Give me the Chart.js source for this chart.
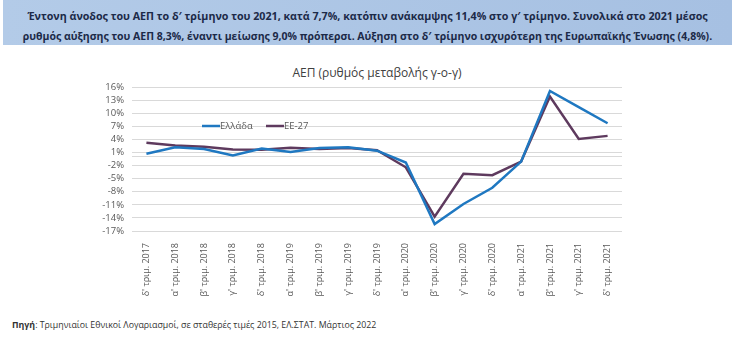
<!DOCTYPE html>
<html lang="el">
<head>
    <meta charset="UTF-8">
    <title>ΑΕΠ (ρυθμός μεταβολής γ-ο-γ)</title>
    <script src="https://cdn.jsdelivr.net/npm/chart.js"></script>
    <style>
        body { margin: 0; width: 732px; height: 343px; background: #fff; font-family: "Open Sans", sans-serif; position: relative; overflow: hidden; }
        .header { position: absolute; left: 3px; top: 0; width: 729px; height: 45px; background: linear-gradient(to right, #b3cbe8, #a6c0e2); color: #1c2a48; font-weight: bold; line-height: 18px; text-align: center; padding-top: 5px; box-sizing: border-box; white-space: nowrap; }
        .header .l1 { font-size: 10.7px; }
        .header .l2 { font-size: 10.5px; }
        .title { position: absolute; left: 0; width: 754px; top: 64px; text-align: center; font-size: 12px; color: #404040; }
        .chart-box { position: absolute; left: 0; top: 48px; width: 732px; height: 262px; }
        .source { position: absolute; left: 12px; top: 319px; font-size: 8.8px; color: #333; }
    </style>
</head>
<body>
    <div class="header">
        <span class="l1">Έντονη άνοδος του ΑΕΠ το δ′ τρίμηνο του 2021, κατά 7,7%, κατόπιν ανάκαμψης 11,4% στο γ′ τρίμηνο. Συνολικά στο 2021 μέσος</span><br>
        <span class="l2">ρυθμός αύξησης του ΑΕΠ 8,3%, έναντι μείωσης 9,0% πρόπερσι. Αύξηση στο δ′ τρίμηνο ισχυρότερη της Ευρωπαϊκής Ένωσης (4,8%).</span>
    </div>
    <div class="title">ΑΕΠ (ρυθμός μεταβολής γ-ο-γ)</div>
    <div class="chart-box"><canvas id="gdpChart"></canvas></div>
    <div class="source"><b>Πηγή</b>: Τριμηνιαίοι Εθνικοί Λογαριασμοί, σε σταθερές τιμές 2015, ΕΛ.ΣΤΑΤ. Μάρτιος 2022</div>

    <script>
        // quarters (x axis)
        const quarters = [
            "δ' τριμ. 2017", "α' τριμ. 2018", "β' τριμ. 2018", "γ' τριμ. 2018", "δ' τριμ. 2018",
            "α' τριμ. 2019", "β' τριμ. 2019", "γ' τριμ. 2019", "δ' τριμ. 2019",
            "α' τριμ. 2020", "β' τριμ. 2020", "γ' τριμ. 2020", "δ' τριμ. 2020",
            "α' τριμ. 2021", "β' τριμ. 2021", "γ' τριμ. 2021", "δ' τριμ. 2021"
        ];

        // y-o-y change, %
        const greece = [0.7, 2.2, 1.8, 0.3, 1.9, 1.1, 2.0, 2.2, 1.4, -1.3, -15.4, -10.8, -7.1, -1.1, 15.1, 11.4, 7.7];
        const eu27   = [3.2, 2.6, 2.3, 1.7, 1.6, 2.1, 1.8, 2.0, 1.5, -2.4, -13.7, -3.9, -4.2, -1.1, 13.8, 4.1, 4.8];

        // y axis ticks
        const yTicks = [-17, -14, -11, -8, -5, -2, 1, 4, 7, 10, 13, 16];

        // legend drawn inside the plot, left of centre
        const innerLegend = {
            id: 'innerLegend',
            afterDraw(chart) {
                const ctx = chart.ctx;
                let x = chart.chartArea.left + 70;
                const y = chart.chartArea.top + 39;
                ctx.save();
                ctx.font = '9.5px "Open Sans", sans-serif';
                ctx.textBaseline = 'middle';
                chart.data.datasets.forEach(ds => {
                    ctx.strokeStyle = ds.borderColor;
                    ctx.lineWidth = 2.5;
                    ctx.beginPath();
                    ctx.moveTo(x, y);
                    ctx.lineTo(x + 18, y);
                    ctx.stroke();
                    ctx.fillStyle = '#595959';
                    ctx.fillText(ds.label, x + 18, y);
                    x += 64;
                });
                ctx.restore();
            }
        };

        new Chart(document.getElementById('gdpChart'), {
            type: 'line',
            data: {
                labels: quarters,
                datasets: [
                    { label: 'Ελλάδα', data: greece, borderColor: '#1f78c1', borderWidth: 2.5, pointRadius: 0, tension: 0 },
                    { label: 'ΕΕ-27', data: eu27, borderColor: '#5e3a5e', borderWidth: 2.5, pointRadius: 0, tension: 0 }
                ]
            },
            options: {
                responsive: true,
                maintainAspectRatio: false,
                animation: false,
                layout: { padding: { left: 0, right: 110, top: 39, bottom: 0 } },
                plugins: {
                    legend: { display: false },
                    tooltip: { enabled: false }
                },
                scales: {
                    x: {
                        offset: true,
                        grid: { display: false },
                        border: { display: false },
                        ticks: {
                            minRotation: 90, maxRotation: 90, autoSkip: false,
                            padding: 4,
                            color: '#595959',
                            font: { family: '"Open Sans", sans-serif', size: 9 }
                        },
                        afterFit(scale) { scale.height = 79; }
                    },
                    y: {
                        min: -17,
                        max: 16,
                        border: { display: false },
                        grid: { color: '#d9d9d9', drawTicks: false, lineWidth: 1 },
                        afterBuildTicks(scale) {
                            scale.ticks = yTicks.concat([0]).sort((a, b) => a - b).map(v => ({ value: v }));
                        },
                        ticks: {
                            autoSkip: false,
                            padding: 8,
                            color: '#595959',
                            font: { family: '"Open Sans", sans-serif', size: 9.5 },
                            callback: v => v === 0 ? '' : v + '%'
                        },
                        afterFit(scale) { scale.width = 132; }
                    }
                }
            },
            plugins: [innerLegend]
        });
    </script>
</body>
</html>
